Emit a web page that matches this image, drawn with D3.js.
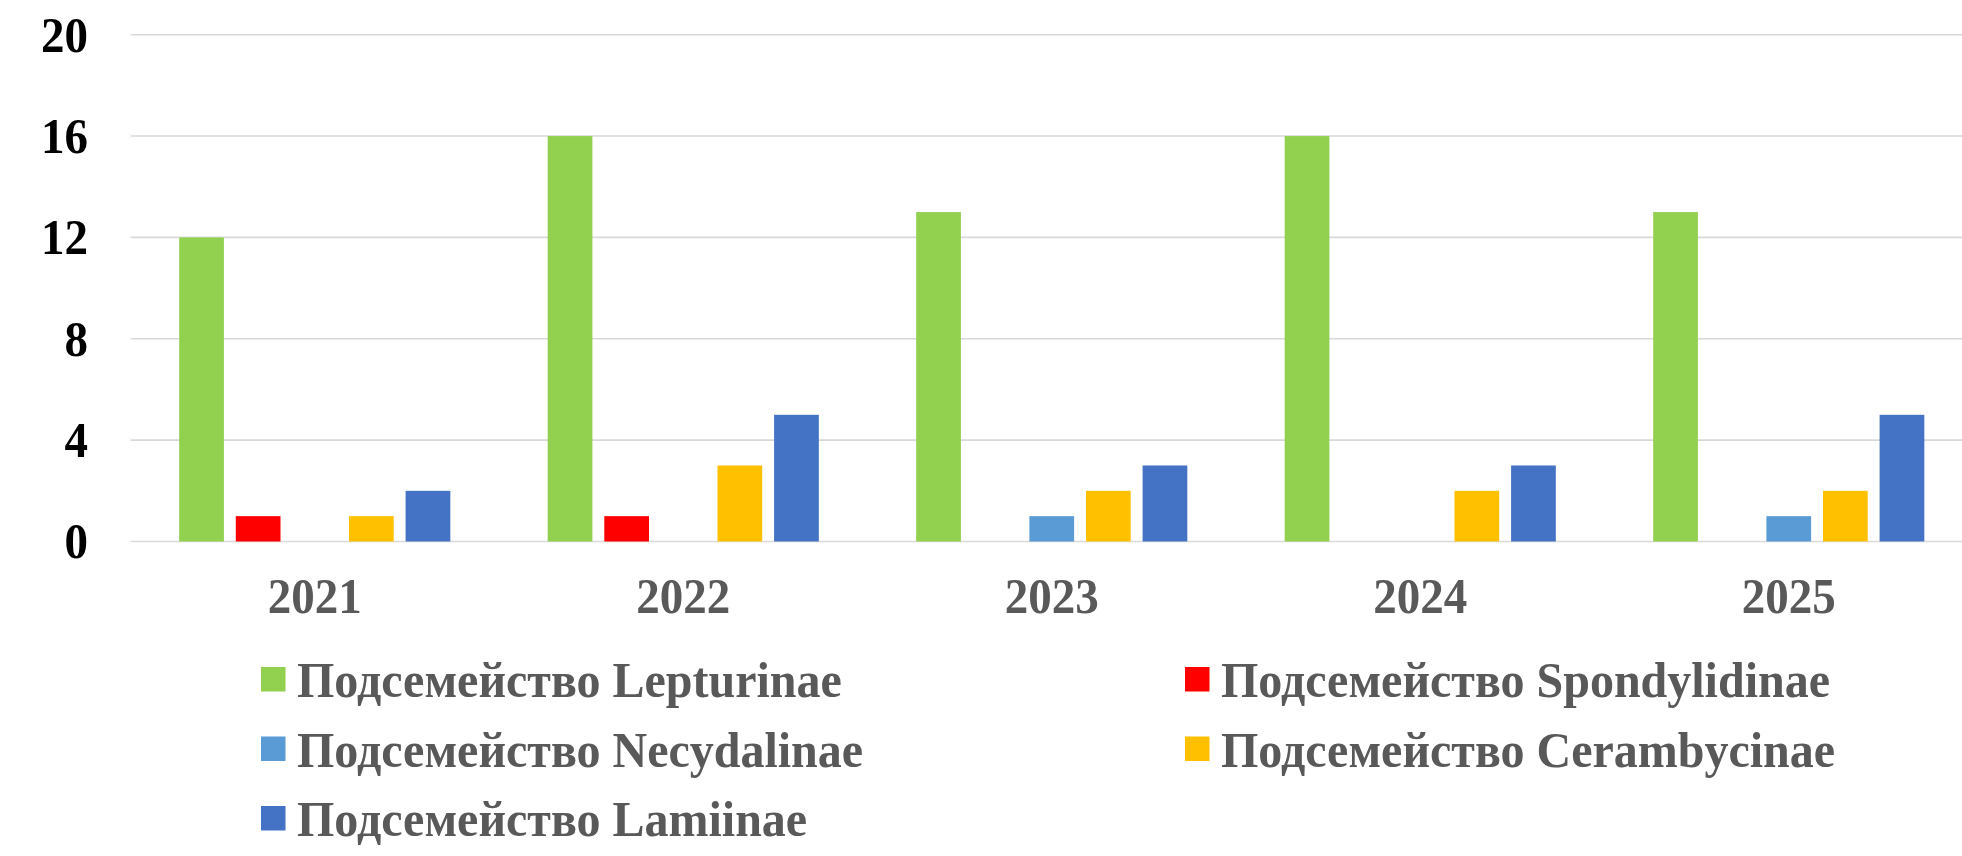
<!DOCTYPE html>
<html>
<head>
<meta charset="utf-8">
<script src="https://cdn.jsdelivr.net/npm/d3@7"></script>
<style>
  html, body { margin: 0; padding: 0; background: #fff; }
  svg { display: block; }
  text { font-family: "Liberation Serif", "Times New Roman", serif; font-weight: bold; }
</style>
</head>
<body>
<svg id="chart" width="1962" height="856"></svg>
<script>
const years = ["2021", "2022", "2023", "2024", "2025"];
const seriesNames = [
  "Подсемейство Lepturinae",
  "Подсемейство Spondylidinae",
  "Подсемейство Necydalinae",
  "Подсемейство Cerambycinae",
  "Подсемейство Lamiinae"
];
const lepturinae    = [12, 16, 13, 16, 13];
const spondylidinae = [1, 1, 0, 0, 0];
const necydalinae   = [0, 0, 1, 0, 1];
const cerambycinae  = [1, 3, 2, 2, 2];
const lamiinae      = [2, 5, 3, 3, 5];
const yTicks = [0, 4, 8, 12, 16, 20];
const colors = ["#92d050", "#ff0000", "#5b9bd5", "#ffc000", "#4472c4"];

const seriesValues = [lepturinae, spondylidinae, necydalinae, cerambycinae, lamiinae];
const STRETCH = 1.06;

const svg = d3.select("#chart");

const x0 = d3.scaleBand().domain(years).range([130.5, 1973]).paddingInner(0).paddingOuter(0);
const x1 = d3.scaleBand().domain(seriesNames).range([0, x0.bandwidth()])
  .paddingInner(0.21).paddingOuter(0.86);
const y = d3.scaleLinear().domain([0, 20]).range([541.5, 34.7]);

// gridlines
const grid = svg.append("g");
grid.selectAll("line").data(yTicks).join("line")
  .attr("x1", 130.5).attr("x2", 1962)
  .attr("y1", d => y(d)).attr("y2", d => y(d))
  .attr("stroke", "#d9d9d9").attr("stroke-width", 1.6);

// y axis labels
const yAxis = d3.axisLeft(y).tickValues(yTicks).tickSize(0).tickPadding(0).tickFormat(d3.format("d"));
const yg = svg.append("g").attr("transform", "translate(88,0)").call(yAxis);
yg.select(".domain").remove();
yg.selectAll("text")
  .attr("x", 0).attr("y", 0).attr("dy", "0.33em")
  .attr("transform", `scale(1,${STRETCH})`)
  .attr("fill", "#000").style("font-size", "47px")
  .style("font-family", "'Liberation Serif', 'Times New Roman', serif").style("font-weight", "bold");

// bars
const groups = svg.append("g").selectAll("g").data(years).join("g")
  .attr("transform", d => `translate(${x0(d)},0)`);
groups.selectAll("rect")
  .data((yr, i) => seriesNames.map((s, j) => ({ s, j, v: seriesValues[j][i] })))
  .join("rect")
  .attr("x", d => x1(d.s))
  .attr("width", x1.bandwidth())
  .attr("y", d => y(d.v))
  .attr("height", d => y(0) - y(d.v))
  .attr("fill", d => colors[d.j]);

// x axis labels
const xAxis = d3.axisBottom(x0).tickSize(0).tickPadding(0);
const xg = svg.append("g").attr("transform", "translate(0,613)").call(xAxis);
xg.select(".domain").remove();
xg.selectAll("text")
  .attr("y", 0).attr("dy", 0)
  .attr("transform", `scale(1,${STRETCH})`)
  .attr("fill", "#595959").style("font-size", "47px")
  .style("font-family", "'Liberation Serif', 'Times New Roman', serif").style("font-weight", "bold");

// legend
const legendPos = [
  { sx: 261, tx: 297, row: 0 },
  { sx: 1185, tx: 1221, row: 0 },
  { sx: 261, tx: 297, row: 1 },
  { sx: 1185, tx: 1221, row: 1 },
  { sx: 261, tx: 297, row: 2 }
];
const legend = svg.append("g");
const items = legend.selectAll("g").data(seriesNames).join("g");
items.append("rect")
  .attr("x", (d, i) => legendPos[i].sx)
  .attr("y", (d, i) => 667 + legendPos[i].row * 69.5)
  .attr("width", 24.5).attr("height", 24.5)
  .attr("fill", (d, i) => colors[i]);
items.append("text")
  .attr("transform", (d, i) => `translate(${legendPos[i].tx},${697 + legendPos[i].row * 69.5}) scale(1,${STRETCH})`)
  .attr("fill", "#595959").style("font-size", "48px")
  .text(d => d);
</script>
</body>
</html>
